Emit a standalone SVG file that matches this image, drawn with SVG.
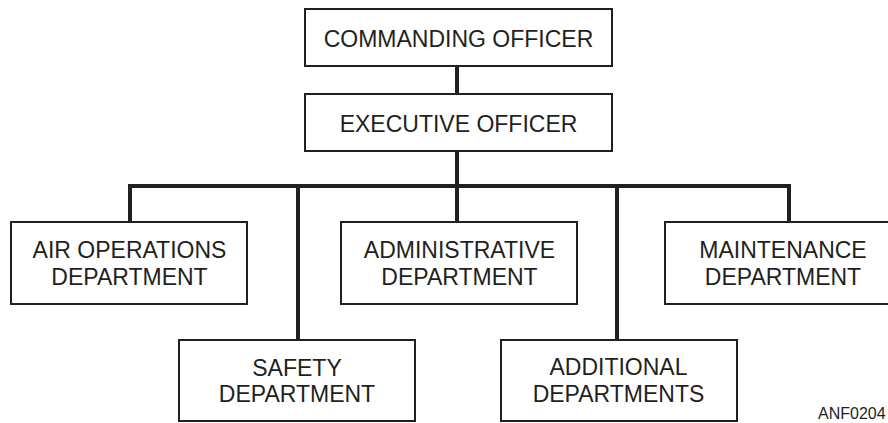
<svg xmlns="http://www.w3.org/2000/svg" width="888" height="423" viewBox="0 0 888 423">
<style>
.box{fill:#fff;stroke:#231f20;stroke-width:2}
.t{font-family:"Liberation Sans",Arial,sans-serif;font-size:23px;fill:#231f20;text-anchor:middle}
.c{fill:none;stroke:#231f20;stroke-width:4;stroke-linecap:butt}
.id{font-family:"Liberation Sans",Arial,sans-serif;font-size:16px;fill:#231f20}
</style>
<rect width="888" height="423" fill="#fff"/>
<g id="connectors">
<line class="c" x1="457" y1="66" x2="457" y2="94"/>
<line class="c" x1="457" y1="151" x2="457" y2="222"/>
<polyline class="c" points="130,222 130,186 789,186 789,222"/>
<line class="c" x1="298" y1="186" x2="298" y2="340"/>
<line class="c" x1="617" y1="186" x2="617" y2="340"/>
</g>
<g id="commanding-officer">
<rect class="box" x="305" y="9" width="307" height="57"/>
<text class="t" x="458.5" y="46.5">COMMANDING OFFICER</text>
</g>
<g id="executive-officer">
<rect class="box" x="305" y="94" width="307" height="57"/>
<text class="t" x="458.5" y="131.5">EXECUTIVE OFFICER</text>
</g>
<g id="air-operations">
<rect class="box" x="11" y="222" width="236" height="82"/>
<text class="t" x="129.5" y="258">AIR OPERATIONS</text>
<text class="t" x="129.5" y="285">DEPARTMENT</text>
</g>
<g id="administrative">
<rect class="box" x="341" y="222" width="236" height="82"/>
<text class="t" x="459.5" y="258">ADMINISTRATIVE</text>
<text class="t" x="459.5" y="285">DEPARTMENT</text>
</g>
<g id="maintenance">
<rect class="box" x="665" y="222" width="236" height="82"/>
<text class="t" x="783" y="258">MAINTENANCE</text>
<text class="t" x="783" y="285">DEPARTMENT</text>
</g>
<g id="safety">
<rect class="box" x="179" y="340" width="236" height="81"/>
<text class="t" x="297" y="376">SAFETY</text>
<text class="t" x="297" y="402">DEPARTMENT</text>
</g>
<g id="additional">
<rect class="box" x="501" y="340" width="236" height="81"/>
<text class="t" x="618.5" y="375">ADDITIONAL</text>
<text class="t" x="618.5" y="402">DEPARTMENTS</text>
</g>
<text class="id" x="818" y="419">ANF0204</text>
</svg>
